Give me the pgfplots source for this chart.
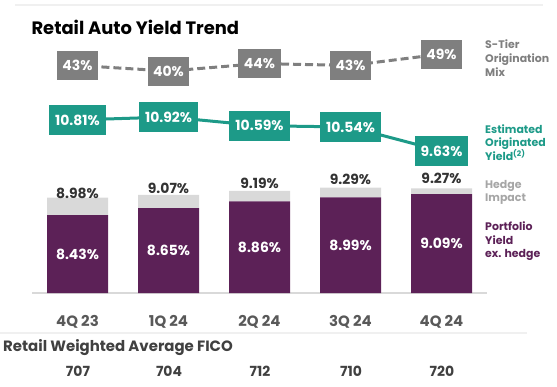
\documentclass[border=0pt]{standalone}
\usepackage{fontspec}
\setmainfont{Poppins}
\usepackage{pgfplots}
\pgfplotsset{compat=1.18}
\definecolor{purp}{HTML}{5C2157}
\definecolor{hedgec}{HTML}{D9D9D9}
\definecolor{tealc}{HTML}{1D9A88}
\definecolor{boxgray}{HTML}{7F7F7F}
\definecolor{stier}{HTML}{7F7F7F}
\definecolor{hedgetxt}{HTML}{A6A6A6}
\definecolor{catgray}{HTML}{595959}
\definecolor{dark}{HTML}{333333}
\definecolor{fico}{HTML}{404040}
\newcommand\ft[1]{\fontsize{#1}{#1}\selectfont\bfseries}
\begin{document}
\begin{tikzpicture}[x=1bp,y=1bp]
\path[use as bounding box] (-32,-93) rectangle (525,293);
\draw[line width=2bp, color=black!6] (-17,288) -- (511,288);
\draw[line width=2bp, color=black!6] (-32,-40) -- (495,-40);
% bars
\begin{axis}[at={(0,0)}, anchor=south west, scale only axis, width=455bp, height=288bp,
  xmin=-0.5, xmax=4.5, ymin=6, ymax=15,
  axis y line=none, axis x line*=bottom,
  x axis line style={draw=hedgec, line width=1.5bp, -},
  xtick={0,...,4}, xticklabels={4Q 23,1Q 24,2Q 24,3Q 24,4Q 24},
  major tick length=0,
  xticklabel style={anchor=base, yshift=-33bp, font=\ft{15}, text=catgray},
  ybar stacked, bar width=61bp, clip=false]
\addplot[fill=purp, draw=none]
  coordinates {(0,8.43) (1,8.65) (2,8.86) (3,8.99) (4,9.09)};
\addplot[fill=hedgec, draw=none, point meta=explicit symbolic,
  nodes near coords={\pgfplotspointmeta\%},
  every node near coord/.style={anchor=base, yshift=8bp, text=dark, font=\ft{14}}]
  coordinates {(0,0.55)[8.98] (1,0.42)[9.07] (2,0.33)[9.19] (3,0.30)[9.29] (4,0.18)[9.27]};
\end{axis}
% labels in the middle of the portfolio yield bars
\begin{axis}[at={(0,0)}, anchor=south west, scale only axis, width=455bp, height=288bp,
  xmin=-0.5, xmax=4.5, ymin=6, ymax=15, hide axis, clip=false]
\addplot[draw=none, mark=none, point meta=explicit symbolic,
  nodes near coords={\pgfplotspointmeta\%},
  every node near coord/.style={anchor=center, text=white, font=\ft{14}}]
  coordinates {(0,7.215)[8.43] (1,7.325)[8.65] (2,7.43)[8.86] (3,7.495)[8.99] (4,7.545)[9.09]};
\end{axis}
% estimated originated yield
\begin{axis}[at={(0,0)}, anchor=south west, scale only axis, width=455bp, height=288bp,
  xmin=-0.5, xmax=4.5, ymin=4.243, ymax=15.17, hide axis, clip=false]
\addplot[color=tealc, line width=3bp, mark=none, point meta=explicit symbolic,
  nodes near coords={\pgfplotspointmeta\%},
  every node near coord/.style={anchor=center, fill=tealc, text=white, font=\ft{14}, inner xsep=6bp, minimum height=30bp}]
  coordinates {(0,10.81)[10.81] (1,10.92)[10.92] (2,10.59)[10.59] (3,10.54)[10.54] (4,9.63)[9.63]};
\end{axis}
% S-tier mix
\begin{axis}[at={(0,0)}, anchor=south west, scale only axis, width=455bp, height=288bp,
  xmin=-0.5, xmax=4.5, ymin=-77.5, ymax=75, hide axis, clip=false]
\addplot[color=boxgray, line width=3bp, dash pattern=on 8bp off 4bp, mark=none, point meta=explicit symbolic,
  nodes near coords={\pgfplotspointmeta\%},
  every node near coord/.style={anchor=center, fill=boxgray, text=white, font=\ft{14}, inner xsep=5.5bp, minimum height=29bp}]
  coordinates {(0,43)[43] (1,40)[40] (2,44)[44] (3,43)[43] (4,49)[49]};
\end{axis}
% title
\node[anchor=base west, font=\ft{18}, text=black] at (-4,258.3) {Retail Auto Yield Trend};
% legend texts
\node[anchor=base west, inner sep=0, font=\ft{11}, text=stier] at (453,244.7) {S-Tier};
\node[anchor=base west, inner sep=0, font=\ft{11}, text=stier] at (453,230.7) {Origination};
\node[anchor=base west, inner sep=0, font=\ft{11}, text=stier] at (453,217) {Mix};
\node[anchor=base west, inner sep=0, font=\ft{11}, text=tealc] at (453,159.7) {Estimated};
\node[anchor=base west, inner sep=0, font=\ft{11}, text=tealc] at (453,146.3) {Originated};
\node[anchor=base west, inner sep=0, font=\ft{11}, text=tealc] at (453,133) {Yield\textsuperscript{(2)}};
\node[anchor=base west, inner sep=0, font=\ft{11}, text=hedgetxt] at (453,104.7) {Hedge};
\node[anchor=base west, inner sep=0, font=\ft{11}, text=hedgetxt] at (453,91.3) {Impact};
\node[anchor=base west, inner sep=0, font=\ft{11}, text=purp] at (453,63) {Portfolio};
\node[anchor=base west, inner sep=0, font=\ft{11}, text=purp] at (453,48.7) {Yield};
\node[anchor=base west, inner sep=0, font=\ft{11}, text=purp] at (453,35.3) {ex. hedge};
% FICO
\node[anchor=base west, inner sep=0, font=\ft{15}, text=fico] at (-29,-58.7) {Retail Weighted Average FICO};
\node[anchor=base, font=\ft{14}, text=fico] at (46,-83.5) {707};
\node[anchor=base, font=\ft{14}, text=fico] at (137,-83.5) {704};
\node[anchor=base, font=\ft{14}, text=fico] at (228,-83.5) {712};
\node[anchor=base, font=\ft{14}, text=fico] at (319,-83.5) {710};
\node[anchor=base, font=\ft{14}, text=fico] at (410,-83.5) {720};
\end{tikzpicture}
\end{document}
